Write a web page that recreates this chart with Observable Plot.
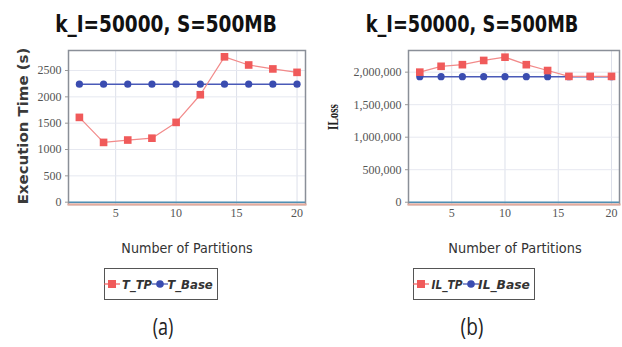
<!DOCTYPE html>
<html>
<head>
<meta charset="utf-8">
<script src="https://cdn.jsdelivr.net/npm/d3@7"></script>
<script src="https://cdn.jsdelivr.net/npm/@observablehq/plot@0.6"></script>
<style>
  html, body { margin: 0; padding: 0; background: #fff; }
  #root { position: relative; width: 622px; height: 347px; overflow: hidden; }
  .abs { position: absolute; white-space: nowrap; }
  .plot { position: absolute; top: 0; }
  .plot text { font-family: "Liberation Serif", "DejaVu Serif", serif; }
  .box { position: absolute; border: 1px solid #555; box-sizing: border-box; }
</style>
</head>
<body>
<div id="root"></div>
<script>
// ---- data ----
const partitions = [2, 4, 6, 8, 10, 12, 14, 16, 18, 20];
const tTP   = [1610, 1135, 1180, 1215, 1515, 2040, 2760, 2605, 2530, 2465];
const tBase = [2240, 2240, 2240, 2240, 2240, 2240, 2240, 2240, 2240, 2240];
const ilTP   = [2000000, 2090000, 2115000, 2180000, 2230000, 2115000, 2025000, 1935000, 1935000, 1935000];
const ilBase = [1930000, 1930000, 1930000, 1930000, 1930000, 1930000, 1930000, 1930000, 1930000, 1930000];
const xTicks = [5, 10, 15, 20];
const yTicksA = [0, 500, 1000, 1500, 2000, 2500];
const yTicksB = [0, 500000, 1000000, 1500000, 2000000];
const titleText = "k_I=50000, S=500MB";
const xLabel = "Number of Partitions";
const yLabelA = "Execution Time (s)";
const yLabelB = "ILoss";
const seriesA = ["T_TP", "T_Base"];
const seriesB = ["IL_TP", "IL_Base"];
const captions = ["(a)", "(b)"];

const RED = "#f05a5a", REDLINE = "#f28a8a", BLUE = "#3a4cb0", BLUELINE = "#4a5ab8";

function rows(xs, ys) { return xs.map((x, i) => ({x, y: ys[i]})); }

function panel(opts) {
  const tp = rows(partitions, opts.tp), base = rows(partitions, opts.base);
  return Plot.plot({
    width: 311, height: 230,
    marginTop: 50, marginBottom: 26, marginLeft: opts.ml, marginRight: opts.mr,
    style: {background: "#fff", overflow: "visible", fontFamily: "Liberation Serif, DejaVu Serif, serif"},
    x: {domain: opts.xd, ticks: xTicks, label: null},
    y: {domain: opts.yd, ticks: opts.yt, label: null, tickFormat: opts.fmt},
    marks: [
      Plot.gridX(xTicks, {stroke: "#dde0ea", strokeOpacity: 1}),
      Plot.gridY(opts.yt, {stroke: "#e6e8f0", strokeOpacity: 1}),
      Plot.ruleY([0], {stroke: "#4f8fb3", strokeWidth: 1.5}),
      Plot.frame({stroke: "#8a8f98", strokeWidth: 1.5}),
      Plot.frame({anchor: "bottom", stroke: "#e4aa9c", strokeWidth: 2}),
      Plot.axisX({ticks: xTicks, tickSize: 0, tickPadding: 4, fontSize: 12, fill: "#555", label: null}),
      Plot.axisY({ticks: opts.yt, tickSize: 3, stroke: "#999", tickPadding: 4, fontSize: 12, fill: "#555", tickFormat: opts.fmt, label: null}),
      Plot.line(base, {x: "x", y: "y", stroke: BLUELINE, strokeWidth: 1.5}),
      Plot.line(tp, {x: "x", y: "y", stroke: REDLINE, strokeWidth: 1.2}),
      Plot.dot(base, {x: "x", y: "y", r: 3.6, fill: BLUE, stroke: "none"}),
      Plot.dot(tp, {x: "x", y: "y", symbol: "square", r: 4.3, fill: RED, stroke: "none"})
    ]
  });
}

const root = document.getElementById("root");

const a = panel({tp: tTP, base: tBase, ml: 68, mr: 6, xd: [1.1, 20.7], yd: [-44, 2880], yt: yTicksA, fmt: d3.format("d")});
a.classList.add("plot"); a.style.left = "0px";
root.appendChild(a);

const b = panel({tp: ilTP, base: ilBase, ml: 97, mr: 3, xd: [0.94, 20.75], yd: [-35000, 2333000], yt: yTicksB, fmt: d3.format(",")});
b.classList.add("plot"); b.style.left = "311px";
root.appendChild(b);

// text placed at a centre, squeezed horizontally to a target width
function place(text, style, cx, top, width, rotate) {
  const d = document.createElement("div");
  d.className = "abs";
  d.textContent = text;
  Object.assign(d.style, style);
  d.style.lineHeight = style.fontSize;
  root.appendChild(d);
  const s = width / d.offsetWidth;
  d.style.left = cx + "px";
  d.style.top = top + "px";
  if (rotate) d.style.transform = `translate(-50%, -50%) rotate(-90deg) scaleX(${s})`;
  else d.style.transform = `translateX(-50%) scaleX(${s})`;
  return d;
}

const titleStyle = {fontFamily: "DejaVu Sans, sans-serif", fontWeight: "bold", fontSize: "23px", color: "#111"};
place(titleText, titleStyle, 166, 12.5, 222);
place(titleText, titleStyle, 472, 12.5, 213);

const xlabStyle = {fontFamily: "DejaVu Sans, sans-serif", fontSize: "14px", color: "#333"};
place(xLabel, xlabStyle, 187, 241, 131);
place(xLabel, xlabStyle, 515, 241, 133);

place(yLabelA, {fontFamily: "DejaVu Sans, sans-serif", fontWeight: "bold", fontSize: "14px", color: "#3a3a3a"}, 23, 126, 157, true);
place(yLabelB, {fontFamily: "Liberation Serif, DejaVu Serif, serif", fontWeight: "bold", fontSize: "14px", color: "#222"}, 334, 117, 26, true);

const capStyle = {fontFamily: "Open Sans, DejaVu Sans, sans-serif", fontSize: "24px", color: "#222"};
place(captions[0], capStyle, 162.5, 313.5, 21);
place(captions[1], capStyle, 472, 313.5, 23);

// legends
function marker(shape, color, cx, cy) {
  const ns = "http://www.w3.org/2000/svg";
  const svg = document.createElementNS(ns, "svg");
  svg.setAttribute("width", 16); svg.setAttribute("height", 12);
  svg.style.position = "absolute";
  svg.style.left = (cx - 8) + "px"; svg.style.top = (cy - 6) + "px";
  svg.innerHTML = `<line x1="0" y1="6" x2="16" y2="6" stroke="${color}" stroke-width="1.2"/>` +
    (shape === "square"
      ? `<rect x="4" y="2" width="8" height="8" fill="${color}"/>`
      : `<circle cx="8" cy="6" r="3.8" fill="${color}"/>`);
  root.appendChild(svg);
}
const legStyle = {fontFamily: "DejaVu Sans, sans-serif", fontWeight: "bold", fontStyle: "italic", fontSize: "13px", color: "#333"};
function legend(names, box, m1, t1, m2, t2) {
  const bx = document.createElement("div");
  bx.className = "box";
  Object.assign(bx.style, {left: box[0] + "px", top: "268px", width: (box[1] - box[0]) + "px", height: "32px"});
  root.appendChild(bx);
  marker("square", RED, m1, 284);
  place(names[0], legStyle, (t1[0] + t1[1]) / 2, 277.5, t1[1] - t1[0]);
  marker("circle", BLUE, m2, 284);
  place(names[1], legStyle, (t2[0] + t2[1]) / 2, 277.5, t2[1] - t2[0]);
}
legend(seriesA, [104, 218], 112, [122, 152], 160, [167, 213]);
legend(seriesB, [413, 535], 421, [431, 462], 471, [478, 530]);
</script>
</body>
</html>
